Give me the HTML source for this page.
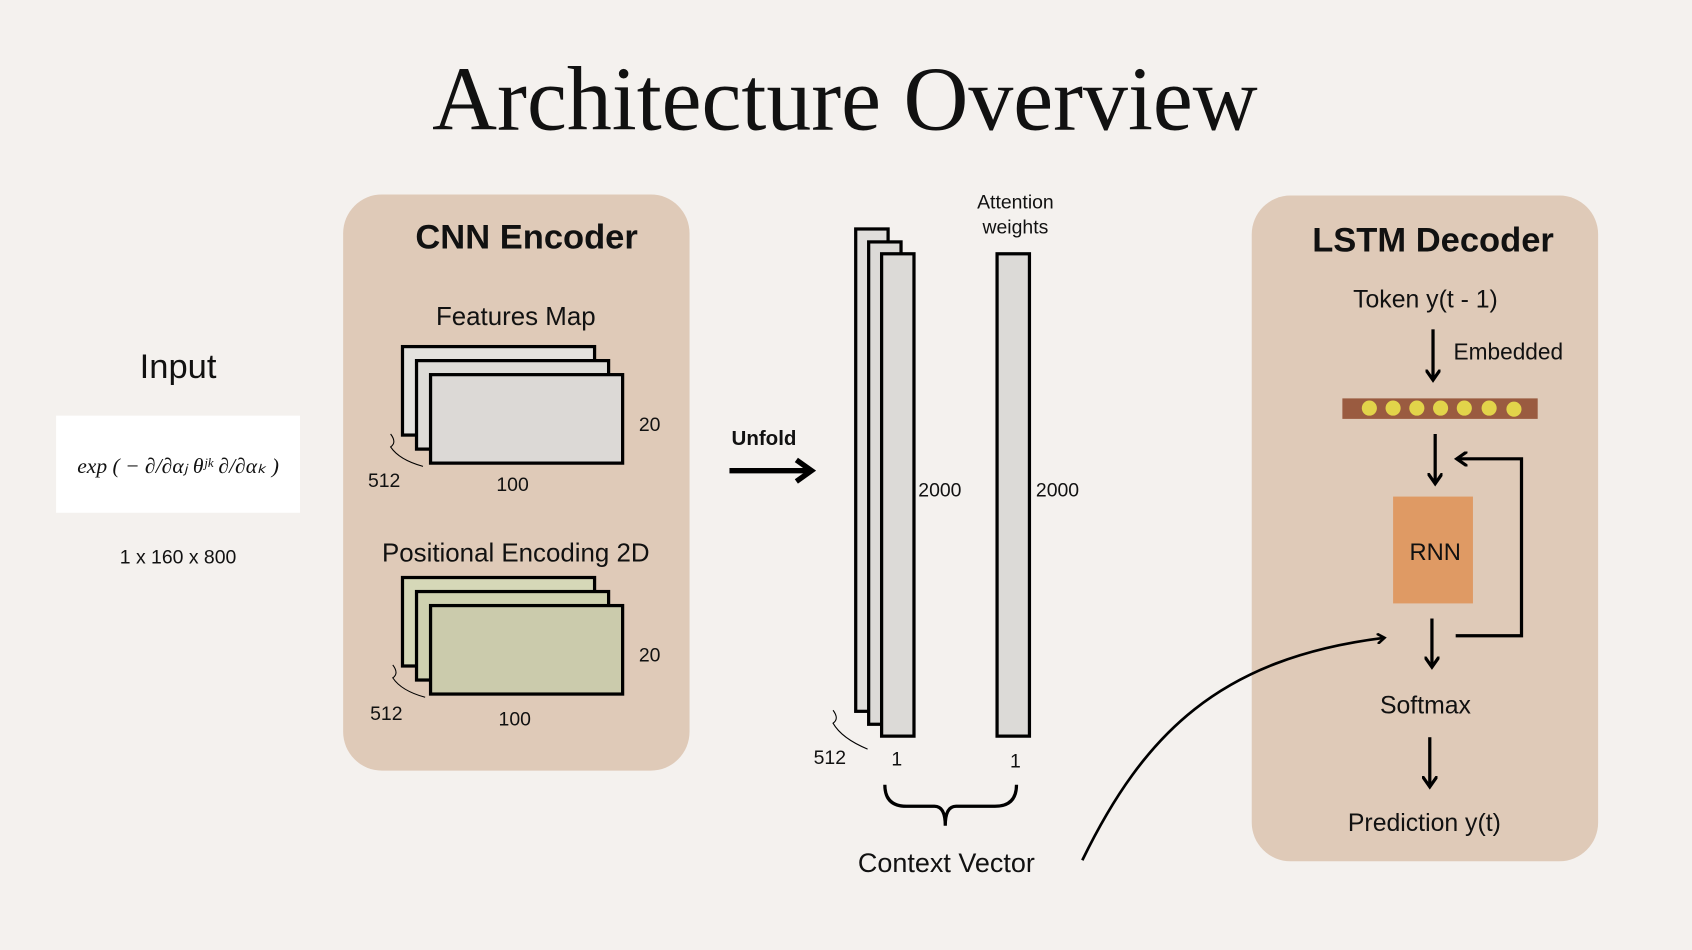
<!DOCTYPE html>
<html><head><meta charset="utf-8"><style>
html,body{margin:0;padding:0;background:#f4f1ee;}
svg{display:block}
text{font-family:"Liberation Sans",sans-serif;fill:#111}
</style></head><body>
<svg width="1692" height="950" viewBox="0 0 1568 880">
<defs>
<marker id="ah" markerWidth="10" markerHeight="10" refX="6" refY="5" orient="auto" markerUnits="userSpaceOnUse"><path d="M0,0 L7,5 L0,10" fill="none" stroke="#000" stroke-width="2.5"/></marker>
<marker id="ahf" markerWidth="14" markerHeight="14" refX="8" refY="7" orient="auto" markerUnits="userSpaceOnUse"><path d="M0,0 L10,7 L0,14" fill="none" stroke="#000" stroke-width="3"/></marker>
</defs>
<rect x="0" y="0" width="1568" height="880" fill="#f4f1ee"/>
<text x="783" y="120" text-anchor="middle" font-size="84" textLength="765" lengthAdjust="spacingAndGlyphs" style="font-family:'Liberation Serif',serif">Architecture Overview</text>

<g>
<text x="165" y="350" text-anchor="middle" font-size="32">Input</text>
<rect x="52" y="385" width="226" height="90" fill="#fff"/>
<text x="165" y="438" text-anchor="middle" font-size="20" font-style="italic" style="font-family:'Liberation Serif',serif">exp ( − ∂/∂αⱼ θʲᵏ ∂/∂αₖ )</text>
<text x="165" y="522" text-anchor="middle" font-size="18">1 x 160 x 800</text>
</g>

<g>
<rect x="318" y="180" width="321" height="534" rx="36" fill="#dfcab8"/>
<text x="488" y="230" text-anchor="middle" font-size="32" font-weight="bold">CNN Encoder</text>
<text x="478" y="301" text-anchor="middle" font-size="24">Features Map</text>
<rect x="373" y="321" width="178" height="82" fill="#e4e2de" stroke="#000" stroke-width="3"/>
<rect x="386" y="334" width="178" height="82" fill="#dedcd8" stroke="#000" stroke-width="3"/>
<rect x="399" y="347" width="178" height="82" fill="#dcd9d6" stroke="#000" stroke-width="3"/>
<text x="592" y="399" font-size="18">20</text>
<text x="460" y="455" font-size="18">100</text>
<text x="341" y="451" font-size="18">512</text>
<path d="M362,402 q6,8 0,12 q8,12 30,18" fill="none" stroke="#000" stroke-width="1"/>
<text x="478" y="520" text-anchor="middle" font-size="24">Positional Encoding 2D</text>
<rect x="373" y="535" width="178" height="82" fill="#d6d8b8" stroke="#000" stroke-width="3"/>
<rect x="386" y="548" width="178" height="82" fill="#cfd1b0" stroke="#000" stroke-width="3"/>
<rect x="399" y="561" width="178" height="82" fill="#cbcbac" stroke="#000" stroke-width="3"/>
<text x="592" y="613" font-size="18">20</text>
<text x="462" y="672" font-size="18">100</text>
<text x="343" y="667" font-size="18">512</text>
<path d="M364,616 q6,8 0,12 q8,12 30,18" fill="none" stroke="#000" stroke-width="1"/>
</g>

<g>
<text x="708" y="412" text-anchor="middle" font-size="19" font-weight="bold">Unfold</text>
<line x1="676" y1="436" x2="748" y2="436" stroke="#000" stroke-width="5"/>
<path d="M738,426 L752,436 L738,446" fill="none" stroke="#000" stroke-width="5"/>
</g>

<g>
<rect x="793" y="212" width="30" height="447" fill="#e0dedb" stroke="#000" stroke-width="3"/>
<rect x="805" y="224" width="30" height="447" fill="#dcdad7" stroke="#000" stroke-width="3"/>
<rect x="817" y="235" width="30" height="447" fill="#dcdad7" stroke="#000" stroke-width="3"/>
<text x="851" y="460" font-size="18">2000</text>
<text x="826" y="709" font-size="18">1</text>
<text x="754" y="708" font-size="18">512</text>
<path d="M772,658 q6,8 0,12 q8,14 32,24" fill="none" stroke="#000" stroke-width="1"/>
<text x="941" y="193" text-anchor="middle" font-size="18">Attention</text>
<text x="941" y="216" text-anchor="middle" font-size="18">weights</text>
<rect x="924" y="235" width="30" height="447" fill="#dcdad7" stroke="#000" stroke-width="3"/>
<text x="960" y="460" font-size="18">2000</text>
<text x="936" y="711" font-size="18">1</text>
<path d="M820,727 q0,20 20,20 h26 q10,0 10,18 q0,-18 10,-18 h36 q20,0 20,-20" fill="none" stroke="#000" stroke-width="3"/>
<text x="877" y="808" text-anchor="middle" font-size="25">Context Vector</text>
</g>

<g>
<rect x="1160" y="181" width="321" height="617" rx="36" fill="#dfcab8"/>
<text x="1328" y="233" text-anchor="middle" font-size="32" font-weight="bold">LSTM Decoder</text>
<text x="1321" y="285" text-anchor="middle" font-size="23">Token y(t - 1)</text>
<line x1="1328" y1="305" x2="1328" y2="350" stroke="#000" stroke-width="3" marker-end="url(#ahf)"/>
<text x="1347" y="333" font-size="21">Embedded</text>
<rect x="1244" y="369" width="181" height="19" fill="#9a5b40"/>
<g fill="#e2d44a">
<circle cx="1269" cy="378" r="7"/><circle cx="1291" cy="378" r="7"/><circle cx="1313" cy="378" r="7"/><circle cx="1335" cy="378" r="7"/><circle cx="1357" cy="378" r="7"/><circle cx="1380" cy="378" r="7"/><circle cx="1403" cy="379" r="7"/>
</g>
<line x1="1330" y1="402" x2="1330" y2="446" stroke="#000" stroke-width="3" marker-end="url(#ahf)"/>
<rect x="1291" y="460" width="74" height="99" fill="#df9a64"/>
<text x="1330" y="519" text-anchor="middle" font-size="22">RNN</text>
<path d="M1349,589 H1410 V425 H1352" fill="none" stroke="#000" stroke-width="3" marker-end="url(#ahf)"/>
<line x1="1327" y1="573" x2="1327" y2="616" stroke="#000" stroke-width="3" marker-end="url(#ahf)"/>
<text x="1321" y="661" text-anchor="middle" font-size="23">Softmax</text>
<line x1="1325" y1="683" x2="1325" y2="727" stroke="#000" stroke-width="3" marker-end="url(#ahf)"/>
<text x="1320" y="770" text-anchor="middle" font-size="23">Prediction y(t)</text>
</g>

<path d="M1003,797 C1060,680 1130,610 1282,591" fill="none" stroke="#000" stroke-width="2.5" marker-end="url(#ah)"/>
</svg>
</body></html>
